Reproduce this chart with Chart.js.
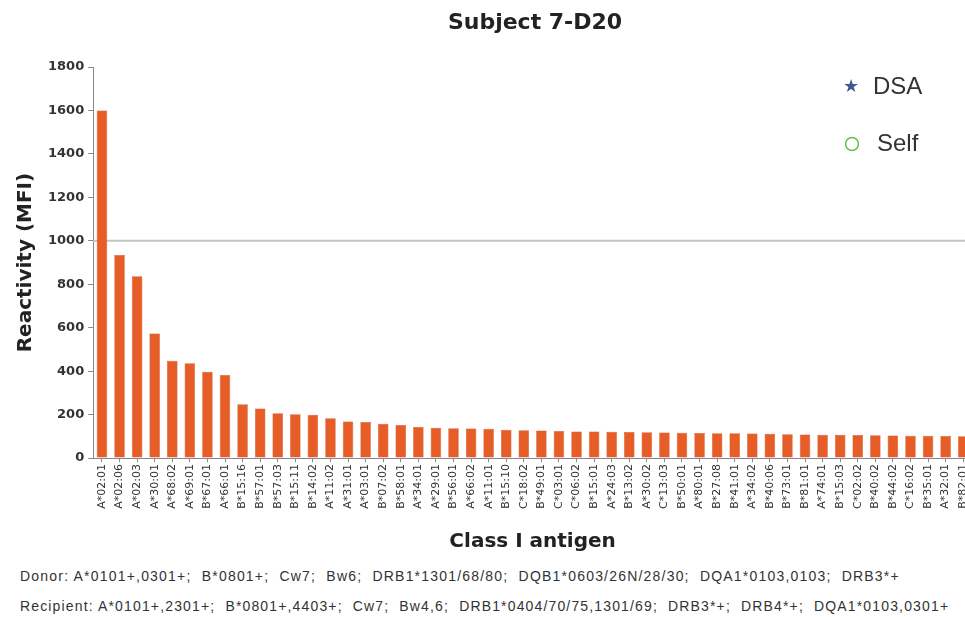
<!DOCTYPE html>
<html>
<head>
<meta charset="utf-8">
<script src="https://cdn.jsdelivr.net/npm/chart.js@4"></script>
<style>
  html, body { margin: 0; padding: 0; background: #fff; }
  #wrap { position: relative; width: 965px; height: 617px; overflow: hidden; }
  #title { position: absolute; top: 9px; left: 335px; width: 400px; text-align: center;
           font: bold 22px "DejaVu Sans"; color: #222; }
  #chart { position: absolute; top: 0; left: 0; }
  .note { position: absolute; left: 20px; font: 14px "Liberation Sans"; color: #333;
          white-space: pre; letter-spacing: 1.2px; }
</style>
</head>
<body>
<div id="wrap">
  <canvas id="chart" width="980" height="565"></canvas>
  <div id="title">Subject 7-D20</div>
  <div class="note" style="top:568px">Donor: A*0101+,0301+;  B*0801+;  Cw7;  Bw6;  DRB1*1301/68/80;  DQB1*0603/26N/28/30;  DQA1*0103,0103;  DRB3*+</div>
  <div class="note" style="top:598px; letter-spacing:1.15px">Recipient: A*0101+,2301+;  B*0801+,4403+;  Cw7;  Bw4,6;  DRB1*0404/70/75,1301/69;  DRB3*+;  DRB4*+;  DQA1*0103,0301+</div>
</div>
<script>
// Class I antigens, sorted by reactivity
var antigens = [
  'A*02:01', 'A*02:06', 'A*02:03', 'A*30:01', 'A*68:02', 'A*69:01', 'B*67:01', 'A*66:01',
  'B*15:16', 'B*57:01', 'B*57:03', 'B*15:11', 'B*14:02', 'A*11:02', 'A*31:01', 'A*03:01',
  'B*07:02', 'B*58:01', 'A*34:01', 'A*29:01', 'B*56:01', 'A*66:02', 'A*11:01', 'B*15:10',
  'C*18:02', 'B*49:01', 'C*03:01', 'C*06:02', 'B*15:01', 'A*24:03', 'B*13:02', 'A*30:02',
  'C*13:03', 'B*50:01', 'A*80:01', 'B*27:08', 'B*41:01', 'A*34:02', 'B*40:06', 'B*73:01',
  'B*81:01', 'A*74:01', 'B*15:03', 'C*02:02', 'B*40:02', 'B*44:02', 'C*16:02', 'B*35:01',
  'A*32:01', 'B*82:01'
];

// MFI per antigen
var mfi = [
  1600, 935, 837, 574, 448, 437, 397, 383,
  248, 228, 206, 202, 200, 183, 168, 166,
  158, 152, 143, 140, 137, 136, 135, 130,
  128, 127, 125, 123, 122, 121, 120, 119,
  118, 117, 116, 115, 114, 113, 112, 110,
  109, 108, 107, 106, 105, 104, 103, 103,
  102, 101
];

// no DSA / self antigens in this subject, kept for the legend
var dsaValues = [];
var selfValues = [];

var yTicks = [0, 200, 400, 600, 800, 1000, 1200, 1400, 1600, 1800];
var threshold = 1000;

var barColor = '#e65d27';

// grey cutoff line across the whole plot
const thresholdLine = {
  id: 'thresholdLine',
  beforeDatasetsDraw(chart) {
    const ctx = chart.ctx;
    const y = chart.scales.y.getPixelForValue(threshold);
    ctx.save();
    ctx.strokeStyle = '#c4c4c4';
    ctx.lineWidth = 2;
    ctx.beginPath();
    ctx.moveTo(chart.chartArea.left, y);
    ctx.lineTo(chart.width, y);
    ctx.stroke();
    ctx.restore();
  }
};

// legend sitting in the upper right of the plot
const cornerLegend = {
  id: 'cornerLegend',
  afterDraw(chart) {
    const ctx = chart.ctx;
    const area = chart.chartArea;
    const x = area.right - 121;
    ctx.save();
    ctx.textBaseline = 'middle';

    var y1 = area.top + 20;
    ctx.fillStyle = '#3d5b8e';
    ctx.font = '18px "DejaVu Sans"';
    ctx.textAlign = 'center';
    ctx.fillText('\u2605', x, y1);
    ctx.fillStyle = '#333';
    ctx.font = '24px "Liberation Sans"';
    ctx.textAlign = 'left';
    ctx.fillText(chart.data.datasets[1].label, x + 22, y1);

    var y2 = area.top + 77;
    ctx.strokeStyle = '#6cbf5a';
    ctx.lineWidth = 1.5;
    ctx.beginPath();
    ctx.arc(x + 1, y2, 6.5, 0, Math.PI * 2);
    ctx.stroke();
    ctx.fillStyle = '#333';
    ctx.fillText(chart.data.datasets[2].label, x + 26, y2);
    ctx.restore();
  }
};

new Chart(document.getElementById('chart'), {
  type: 'bar',
  data: {
    labels: antigens,
    datasets: [
      {
        label: 'MFI',
        data: mfi,
        backgroundColor: barColor,
        borderColor: '#c94a1c',
        borderWidth: 0.5,
        barPercentage: 0.6,
        categoryPercentage: 1.0
      },
      { label: 'DSA', type: 'line', data: dsaValues, showLine: false, pointStyle: 'star' },
      { label: 'Self', type: 'line', data: selfValues, showLine: false, pointStyle: 'circle' }
    ]
  },
  options: {
    responsive: false,
    animation: false,
    layout: { padding: { top: 67, left: 14, right: 8, bottom: 11 } },
    plugins: {
      legend: { display: false },
      tooltip: { enabled: false }
    },
    scales: {
      x: {
        grid: { display: true, drawOnChartArea: false, offset: false, tickLength: 4, color: '#888' },
        border: { color: '#888' },
        ticks: {
          autoSkip: false, maxRotation: 90, minRotation: 90, padding: 2,
          color: '#333', font: { family: 'DejaVu Sans', size: 11 }
        },
        title: {
          display: true, text: 'Class I antigen', color: '#222',
          font: { family: 'DejaVu Sans', size: 20, weight: 'bold' }, padding: { top: 19, bottom: 0 }
        }
      },
      y: {
        min: 0, max: 1800,
        afterBuildTicks: function (axis) { axis.ticks = yTicks.map(v => ({ value: v })); },
        grid: { display: true, drawOnChartArea: false, tickLength: 5, color: '#888' },
        border: { color: '#888' },
        ticks: {
          color: '#333', padding: 4, font: { family: 'DejaVu Sans', size: 13, weight: 'bold' },
          callback: function (v) { return String(v); }
        },
        title: {
          display: true, text: 'Reactivity (MFI)', color: '#222',
          font: { family: 'DejaVu Sans', size: 20, weight: 'bold' }, padding: { top: 0, bottom: 6 }
        }
      }
    }
  },
  plugins: [thresholdLine, cornerLegend]
});
</script>
</body>
</html>
